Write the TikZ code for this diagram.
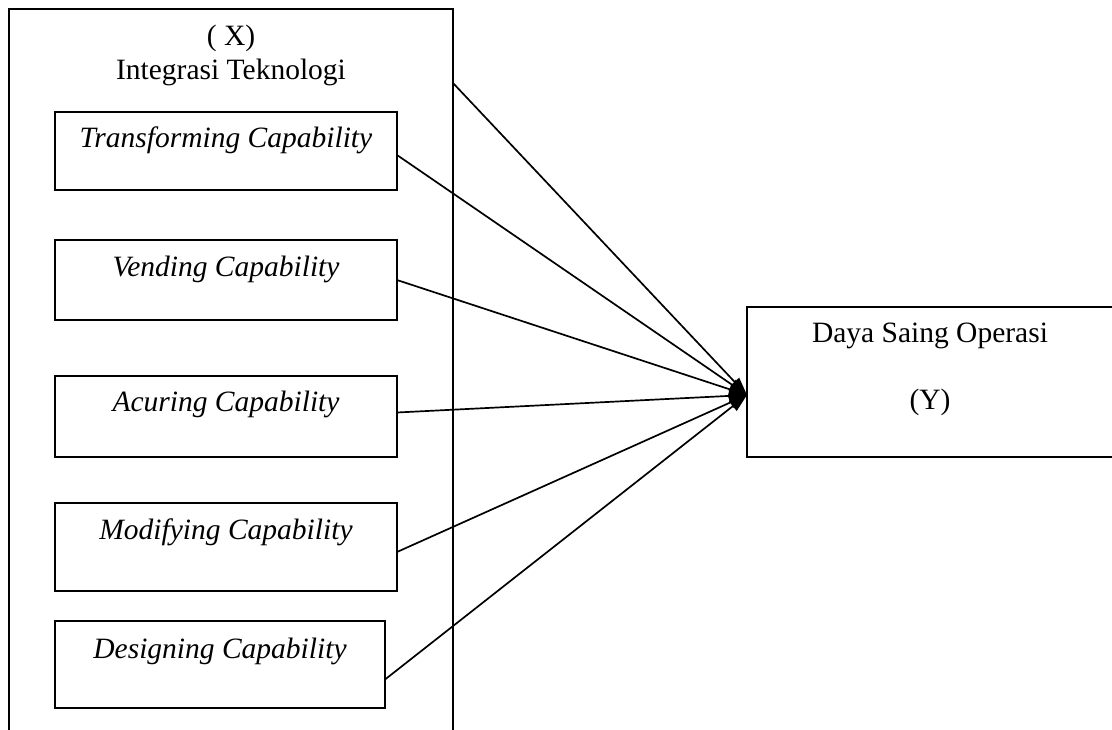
\documentclass[tikz,border=0pt]{standalone}
\usepackage{fontspec}
\setmainfont{Liberation Serif}
\usetikzlibrary{arrows.meta}
\begin{document}
\begin{tikzpicture}[x=1pt,y=-1pt,
  box/.style={draw, line width=1.6pt, inner sep=0pt, outer sep=0pt},
  lbl/.style={inner sep=0pt, font=\fontsize{29.5}{34}\selectfont},
  ilbl/.style={lbl, font=\fontsize{29.5}{34}\selectfont\itshape},
  conn/.style={line width=1.7pt, -{Triangle[length=18pt,width=12pt]}}]
\useasboundingbox (0,0) rectangle (1112,729);
\clip (0,0) rectangle (1112,729);
% outer box (open at the bottom)
\node[box, minimum width=444pt, minimum height=790pt] (X) at (231,404) {};
\node[lbl] (xl) at (231,38) {( X)};
\node[lbl] (xt) at (231,72) {Integrasi Teknologi};
% inner boxes
\node[box, minimum width=342pt, minimum height=78pt] (T) at (226,151) {};
\node[ilbl] (Tt) at (226,140) {Transforming Capability};
\node[box, minimum width=342pt, minimum height=80pt] (V) at (226,280) {};
\node[ilbl] (Vt) at (226,269) {Vending Capability};
\node[box, minimum width=342pt, minimum height=81pt] (A) at (226,416.5) {};
\node[ilbl] (At) at (226,404) {Acuring Capability};
\node[box, minimum width=342pt, minimum height=88pt] (M) at (226,547) {};
\node[ilbl] (Mt) at (226,532) {Modifying Capability};
\node[box, minimum width=330pt, minimum height=87pt] (D) at (220,664.5) {};
\node[ilbl] (Dt) at (220,651) {Designing Capability};
% right box
\node[box, minimum width=403pt, minimum height=150pt] (Y) at (948.5,382) {};
\node[lbl] (Yt) at (930,336) {Daya Saing Operasi};
\node[lbl] (Yy) at (930,402) {(Y)};
\coordinate (tgt) at ([yshift=-13pt]Y.west);
\coordinate (xs) at ([yshift=-74pt]X.north east);
% connectors
\draw[conn] (xs) -- (tgt);
\draw[conn] ([yshift=-4pt]T.east) -- (tgt);
\draw[conn] (V.east) -- (tgt);
\draw[conn] ([yshift=4pt]A.east) -- (tgt);
\draw[conn] ([yshift=-5pt]M.east) -- (tgt);
\draw[conn] ([yshift=-15pt]D.east) -- (tgt);
\end{tikzpicture}
\end{document}
